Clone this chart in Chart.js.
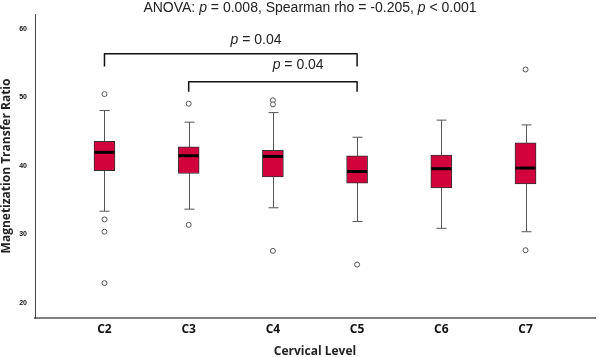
<!DOCTYPE html>
<html>
<head>
<meta charset="utf-8">
<script src="https://cdn.jsdelivr.net/npm/chart.js@4.4.1/dist/chart.umd.min.js"></script>
<style>
  html, body { margin: 0; padding: 0; background: #fff; }
</style>
</head>
<body>
<canvas id="myChart" width="600" height="357"></canvas>
<script>
// values
const levels = ["C2", "C3", "C4", "C5", "C6", "C7"];
const whiskerLow = [33.4, 33.7, 33.9, 31.9, 30.9, 30.4];
const q1 = [39.3, 38.9, 38.4, 37.5, 36.8, 37.4];
const medians = [42.0, 41.5, 41.4, 39.2, 39.6, 39.7];
const q3 = [43.6, 42.8, 42.3, 41.5, 41.6, 43.4];
const whiskerHigh = [48.1, 46.4, 47.8, 44.2, 46.7, 46.0];
const outliers = [
    [50.5, 32.2, 30.4, 22.9],
    [49.1, 31.4],
    [49.6, 49.0, 27.6],
    [25.6],
    [],
    [54.1, 27.7]
];
const yTicks = [20, 30, 40, 50, 60];
const comparisons = [["C2", "C5"], ["C3", "C5"]];
const pValues = ["0.04", "0.04"];

const boxColor = "#d2023c";

function levelX(name) {
    return levels.indexOf(name) + 1;
}

const boxParts = {
    id: "boxParts",
    beforeDatasetsDraw(chart) {
        const { ctx, scales: { x, y } } = chart;
        ctx.save();
        ctx.strokeStyle = "#555";
        ctx.lineWidth = 1;
        levels.forEach((l, i) => {
            const px = Math.round(x.getPixelForValue(i + 1)) + 0.5;
            const lo = y.getPixelForValue(whiskerLow[i]);
            const hi = y.getPixelForValue(whiskerHigh[i]);
            ctx.beginPath();
            ctx.moveTo(px, lo); ctx.lineTo(px, hi);
            ctx.moveTo(px - 5, lo); ctx.lineTo(px + 5, lo);
            ctx.moveTo(px - 5, hi); ctx.lineTo(px + 5, hi);
            ctx.stroke();
        });
        ctx.restore();
    },
    afterDatasetsDraw(chart) {
        const { ctx, scales: { x, y } } = chart;
        ctx.save();
        ctx.strokeStyle = "#000";
        ctx.lineWidth = 3;
        levels.forEach((l, i) => {
            const px = x.getPixelForValue(i + 1);
            const py = y.getPixelForValue(medians[i]);
            ctx.beginPath();
            ctx.moveTo(px - 10, py);
            ctx.lineTo(px + 10, py);
            ctx.stroke();
        });
        ctx.restore();
    }
};

// text made of plain and italic runs, centred on cx
function drawRuns(ctx, runs, cx, cy, size) {
    const fonts = runs.map(r => (r[1] ? "italic " : "") + size + "px 'Liberation Sans', Arial, sans-serif");
    let total = 0;
    const widths = runs.map((r, i) => {
        ctx.font = fonts[i];
        const w = ctx.measureText(r[0]).width;
        total += w;
        return w;
    });
    let px = cx - total / 2;
    ctx.textBaseline = "middle";
    ctx.textAlign = "left";
    runs.forEach((r, i) => {
        ctx.font = fonts[i];
        ctx.fillText(r[0], px, cy);
        px += widths[i];
    });
}

const annotations = {
    id: "annotations",
    afterDraw(chart, args, opts) {
        const { ctx, chartArea, scales: { x, y } } = chart;
        ctx.save();
        ctx.fillStyle = "#222";
        drawRuns(ctx, [["ANOVA: ", false], ["p", true], [" = 0.008, Spearman rho = -0.205, ", false],
            ["p", true], [" < 0.001", false]], (chartArea.left + chartArea.right) / 2 - 5, 8, 14);

        ctx.strokeStyle = "#111";
        ctx.lineWidth = 1.5;
        ctx.lineJoin = "round";
        comparisons.forEach((c, i) => {
            const b = opts.brackets[i];
            const x1 = x.getPixelForValue(levelX(c[0]));
            const x2 = x.getPixelForValue(levelX(c[1]));
            const yTop = y.getPixelForValue(b.y);
            const yEnd = y.getPixelForValue(b.y - b.drop);
            ctx.beginPath();
            ctx.moveTo(x1, yEnd);
            ctx.lineTo(x1, yTop);
            ctx.lineTo(x2, yTop);
            ctx.lineTo(x2, yEnd);
            ctx.stroke();
            drawRuns(ctx, [["p", true], [" = " + pValues[i], false]],
                x.getPixelForValue(b.textX), y.getPixelForValue(b.textY), 14);
        });
        ctx.restore();
    }
};

const outlierPoints = [];
outliers.forEach((list, i) => list.forEach(v => outlierPoints.push({ x: i + 1, y: v })));

const ctx = document.getElementById("myChart").getContext("2d");
const myChart = new Chart(ctx, {
    type: "bar",
    data: {
        datasets: [{
            label: "IQR",
            data: levels.map((l, i) => ({ x: i + 1, y: [q1[i], q3[i]] })),
            backgroundColor: boxColor,
            borderColor: "#333",
            borderWidth: 1,
            borderSkipped: false,
            barThickness: 21
        }, {
            type: "scatter",
            label: "Outliers",
            data: outlierPoints,
            pointStyle: "circle",
            pointRadius: 2.5,
            pointBackgroundColor: "#fff",
            pointBorderColor: "#555",
            pointBorderWidth: 1
        }]
    },
    options: {
        responsive: false,
        animation: false,
        devicePixelRatio: 1,
        layout: { padding: { top: 14, right: 2, left: 0, bottom: 0 } },
        plugins: {
            legend: { display: false },
            tooltip: { enabled: false },
            annotations: {
                brackets: [
                    { y: 56.4, drop: 1.85, textX: 2.8, textY: 58.4 },
                    { y: 52.3, drop: 1.45, textX: 3.3, textY: 54.7 }
                ]
            }
        },
        scales: {
            x: {
                type: "linear",
                min: 0.175,
                max: 6.825,
                offset: false,
                grid: { display: false, drawTicks: false },
                border: { display: true, color: "#808080", width: 2 },
                afterBuildTicks: s => { s.ticks = levels.map((l, i) => ({ value: i + 1 })); },
                afterFit: s => { s.height = 39; },
                ticks: {
                    autoSkip: false,
                    maxRotation: 0,
                    padding: 4,
                    color: "#111",
                    font: { family: "'Open Sans', sans-serif", weight: "bold", size: 12 },
                    callback: v => levels[v - 1]
                },
                title: {
                    display: true,
                    text: "Cervical Level",
                    color: "#222",
                    padding: { top: 0, bottom: -1 },
                    font: { family: "'Open Sans', sans-serif", weight: "bold", size: 12, lineHeight: 1 }
                }
            },
            y: {
                min: 17.8,
                max: 62.2,
                grid: { display: false, drawTicks: false },
                border: { display: true, color: "#444", width: 1 },
                afterBuildTicks: s => { s.ticks = yTicks.map(v => ({ value: v })); },
                afterFit: s => { s.width = 35; },
                ticks: {
                    padding: 8,
                    color: "#111",
                    font: { family: "'Liberation Sans', Arial, sans-serif", weight: "bold", size: 7 }
                },
                title: {
                    display: true,
                    text: "Magnetization Transfer Ratio",
                    color: "#222",
                    padding: 0,
                    font: { family: "'Open Sans', sans-serif", weight: "bold", size: 12, lineHeight: 1.1 }
                }
            }
        }
    },
    plugins: [boxParts, annotations]
});
</script>
</body>
</html>
